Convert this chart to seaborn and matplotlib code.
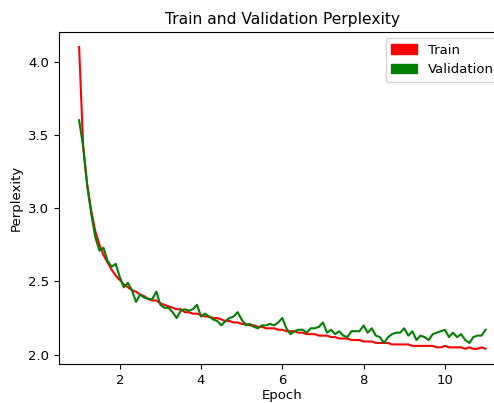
import numpy as np
import matplotlib
matplotlib.use('Agg')
import matplotlib.pyplot as plt
import matplotlib.patches as mpatches
import seaborn as sns

# perplexity, one value every 0.1 epoch
epochs = np.linspace(1, 11, 101)

train_ppl = [
    4.10, 3.42, 3.16, 2.98, 2.84, 2.75, 2.68, 2.63, 2.58, 2.54,
    2.51, 2.48, 2.46, 2.44, 2.43, 2.41, 2.40, 2.38, 2.37, 2.37,
    2.35, 2.34, 2.33, 2.32, 2.31, 2.31, 2.29, 2.29, 2.28, 2.28,
    2.27, 2.26, 2.26, 2.25, 2.25, 2.24, 2.23, 2.23, 2.22, 2.22,
    2.21, 2.21, 2.20, 2.20, 2.19, 2.19, 2.18, 2.18, 2.18, 2.17,
    2.17, 2.16, 2.16, 2.16, 2.15, 2.15, 2.14, 2.14, 2.14, 2.13,
    2.13, 2.13, 2.12, 2.12, 2.11, 2.11, 2.11, 2.10, 2.10, 2.10,
    2.09, 2.09, 2.09, 2.08, 2.08, 2.08, 2.08, 2.07, 2.07, 2.07,
    2.07, 2.07, 2.06, 2.06, 2.06, 2.06, 2.06, 2.06, 2.05, 2.05,
    2.06, 2.05, 2.05, 2.05, 2.05, 2.04, 2.05, 2.04, 2.04, 2.05,
    2.04,
]

val_ppl = [
    3.60, 3.42, 3.15, 2.96, 2.80, 2.71, 2.73, 2.64, 2.60, 2.62,
    2.53, 2.46, 2.49, 2.44, 2.36, 2.41, 2.39, 2.38, 2.38, 2.43,
    2.34, 2.32, 2.32, 2.29, 2.25, 2.30, 2.31, 2.30, 2.31, 2.34,
    2.26, 2.28, 2.26, 2.24, 2.23, 2.20, 2.23, 2.25, 2.26, 2.29,
    2.24, 2.20, 2.21, 2.19, 2.18, 2.20, 2.20, 2.21, 2.20, 2.22,
    2.25, 2.18, 2.14, 2.16, 2.17, 2.17, 2.15, 2.18, 2.18, 2.19,
    2.22, 2.15, 2.17, 2.14, 2.16, 2.13, 2.12, 2.16, 2.16, 2.16,
    2.20, 2.15, 2.18, 2.13, 2.12, 2.08, 2.12, 2.14, 2.15, 2.15,
    2.18, 2.13, 2.16, 2.10, 2.13, 2.12, 2.10, 2.14, 2.15, 2.16,
    2.17, 2.12, 2.15, 2.12, 2.14, 2.10, 2.08, 2.12, 2.13, 2.13,
    2.17,
]

plt.rcParams['font.size'] = 9.5

fig = plt.figure(figsize=(4.94, 4.03), dpi=100)
# the original image is cut off on the right, so the axes run past the edge
ax = fig.add_axes([0.119, 0.097, 0.905, 0.824])

sns.lineplot(x=epochs, y=train_ppl, color='red', linewidth=1.5, ax=ax)
sns.lineplot(x=epochs, y=val_ppl, color='green', linewidth=1.5, ax=ax)

ax.set_title('Train and Validation Perplexity', fontsize=11.2)
ax.set_xlabel('Epoch', labelpad=1.5)
ax.set_ylabel('Perplexity')
ax.set_yticks([2.0, 2.5, 3.0, 3.5, 4.0])
ax.set_xticks([2, 4, 6, 8, 10])

handles = [mpatches.Patch(color='red', label='Train'),
           mpatches.Patch(color='green', label='Validation')]
ax.legend(handles=handles, loc='upper right')

fig.savefig('out.png', dpi=100)
